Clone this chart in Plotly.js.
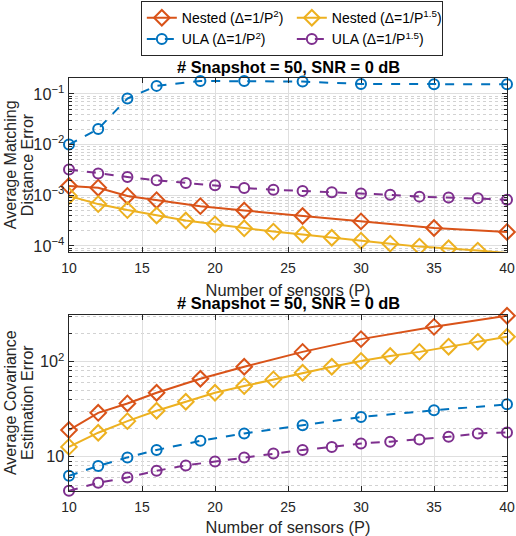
<!DOCTYPE html>
<html>
<head>
<meta charset="utf-8">
<script src="https://cdn.plot.ly/plotly-3.0.1.min.js"></script>
<style>html,body{margin:0;padding:0;background:#fff}#chart{width:516px;height:536px}</style>
</head>
<body>
<div id="chart"></div>
<script>
// Sensor counts
const xSparse = [10, 12, 14, 16, 19, 22, 26, 30, 35, 40];
const xDense = [10, 12, 14, 16, 18, 20, 22, 24, 26, 28, 30, 32, 34, 36, 38, 40];

// Top panel: Average Matching Distance Error
const nestedP2_mde = [0.00152, 0.00141, 0.00097, 0.00080, 0.00061, 0.00050, 0.00039, 0.000305, 0.000226, 0.000189];
const nestedP15_mde = [0.00097, 0.00067, 0.00051, 0.00040, 0.000318, 0.000267, 0.000223, 0.000192, 0.000168, 0.000145, 0.000127, 0.000111, 0.000097, 0.000090, 0.000081, 0.000073];
const ulaP2_mde = [0.0100, 0.0203, 0.081, 0.144, 0.180, 0.180, 0.175, 0.157, 0.155, 0.155];
const ulaP15_mde = [0.00324, 0.00270, 0.00230, 0.00197, 0.00175, 0.00157, 0.00139, 0.00129, 0.00122, 0.00115, 0.00108, 0.00102, 0.00094, 0.00090, 0.00087, 0.00082];

// Bottom panel: Average Covariance Estimation Error
const nestedP2_cov = [19.1, 29.0, 36.4, 47.2, 66.2, 88.5, 127, 173, 233, 305];
const nestedP15_cov = [12.7, 17.9, 23.7, 30.5, 37.9, 47.2, 55.5, 65.2, 76.6, 88.5, 102, 115, 127, 144, 162, 183];
const ulaP2_cov = [6.3, 8.0, 9.84, 11.8, 14.7, 17.6, 21.5, 26.2, 30.8, 35.6];
const ulaP15_cov = [4.38, 5.32, 6.05, 7.12, 8.11, 8.93, 9.84, 10.8, 11.8, 12.7, 13.8, 14.4, 15.2, 16.2, 17.6, 18.0];

const names = ['Nested (Δ=1/P<sup>2</sup>)', 'Nested (Δ=1/P<sup>1.5</sup>)', 'ULA (Δ=1/P<sup>2</sup>)', 'ULA (Δ=1/P<sup>1.5</sup>)'];
const xTicks = [10, 15, 20, 25, 30, 35, 40];
const titleText = '<b># Snapshot = 50, SNR = 0 dB</b>';
const xTitle = 'Number of sensors (P)';
const yTitleTopLines = ['Average Matching', 'Distance Error'];
const yTitleBottomLines = ['Average Covariance', 'Estimation Error'];

const C_RED = '#D95319', C_YEL = '#EDB120', C_BLU = '#0072BD', C_PUR = '#7E2F8E';
const FONT = 'Liberation Sans, Arial, Helvetica, sans-serif';

function tr(x, y, name, color, dash, symbol, xa, ya, showlegend, clip) {
  return {
    x: x, y: y, name: name, type: 'scatter', mode: 'lines+markers',
    xaxis: xa, yaxis: ya, showlegend: showlegend, cliponaxis: clip,
    line: {color: color, width: 2, dash: dash},
    marker: {symbol: symbol, size: symbol === 'diamond-open' ? 12 : 10, color: color, line: {width: 2, color: color}}
  };
}

const data = [
  tr(xSparse, nestedP2_mde, names[0], C_RED, 'solid', 'diamond-open', 'x', 'y', true, false),
  tr(xDense, nestedP15_mde, names[1], C_YEL, 'solid', 'diamond-open', 'x', 'y', true, true),
  tr(xSparse, ulaP2_mde, names[2], C_BLU, 'dash', 'circle-open', 'x', 'y', true, false),
  tr(xDense, ulaP15_mde, names[3], C_PUR, 'dash', 'circle-open', 'x', 'y', true, false),
  tr(xSparse, nestedP2_cov, names[0], C_RED, 'solid', 'diamond-open', 'x2', 'y2', false, false),
  tr(xDense, nestedP15_cov, names[1], C_YEL, 'solid', 'diamond-open', 'x2', 'y2', false, false),
  tr(xSparse, ulaP2_cov, names[2], C_BLU, 'dash', 'circle-open', 'x2', 'y2', false, false),
  tr(xDense, ulaP15_cov, names[3], C_PUR, 'dash', 'circle-open', 'x2', 'y2', false, false)
];

const axColor = '#262626';
function xAxis(anchor) {
  return {
    anchor: anchor, domain: [0, 1], range: [10, 40], tickvals: xTicks,
    ticks: 'inside', ticklen: 5, tickcolor: axColor, showline: true, linecolor: axColor, linewidth: 1,
    mirror: 'ticks', showgrid: true, gridcolor: '#dfdfdf', zeroline: false,
    ticklabelstandoff: 3,
    tickfont: {size: 14, color: axColor, family: FONT},
    title: {text: xTitle, font: {size: 16.4, color: axColor, family: FONT}, standoff: 9}
  };
}
function yAxis(anchor, domain, range) {
  return {
    anchor: anchor, domain: domain, type: 'log', range: range, dtick: 1, exponentformat: 'power',
    ticks: 'inside', ticklen: 5, tickcolor: axColor, showline: true, linecolor: axColor, linewidth: 1,
    mirror: 'ticks', showgrid: true, gridcolor: '#dfdfdf', zeroline: false,
    ticklabelstandoff: 1,
    minor: {dtick: 'D1', showgrid: true, gridcolor: '#d2d2d2', griddash: 'dot', ticks: 'inside', ticklen: 3, tickcolor: axColor},
    tickfont: {size: 13, color: axColor, family: FONT}
  };
}

function yTitleAnn(text, yref, shift) {
  return {text: text, xref: 'paper', yref: yref, x: 0, y: 0.5, xanchor: 'center', yanchor: 'middle',
    xshift: shift, textangle: -90, showarrow: false, borderpad: 0, font: {size: 16, color: axColor, family: FONT}};
}

const layout = {
  width: 516, height: 536,
  margin: {l: 69, r: 9, t: 78, b: 45, autoexpand: false},
  paper_bgcolor: '#ffffff', plot_bgcolor: '#ffffff',
  font: {family: FONT, color: axColor},
  showlegend: true,
  xaxis: xAxis('y'),
  yaxis: yAxis('x', [0.578, 1], [Math.log10(7.5e-5), Math.log10(0.206)]),
  xaxis2: xAxis('y2'),
  yaxis2: yAxis('x2', [0, 0.426], [Math.log10(4.36), Math.log10(310)]),
  legend: {
    orientation: 'h', x: 0.164, xanchor: 'left', y: 1.186, yanchor: 'top',
    entrywidth: 105, entrywidthmode: 'pixels', traceorder: 'normal',
    bordercolor: axColor, borderwidth: 1, bgcolor: '#ffffff',
    font: {size: 14, color: '#000', family: FONT}
  },
  annotations: [
    {text: titleText, xref: 'x domain', yref: 'y domain', x: 0.5, y: 1, xanchor: 'center', yanchor: 'bottom', yshift: 0, showarrow: false, font: {size: 16.4, color: '#000', family: FONT}},
    {text: titleText, xref: 'x2 domain', yref: 'y2 domain', x: 0.5, y: 1, xanchor: 'center', yanchor: 'bottom', yshift: 1, showarrow: false, font: {size: 16.4, color: '#000', family: FONT}},
    yTitleAnn(yTitleTopLines[0], 'y domain', -59),
    yTitleAnn(yTitleTopLines[1], 'y domain', -42),
    yTitleAnn(yTitleBottomLines[0], 'y2 domain', -59),
    yTitleAnn(yTitleBottomLines[1], 'y2 domain', -42)
  ]
};

Plotly.newPlot('chart', data, layout, {displayModeBar: false, staticPlot: true});
</script>
</body>
</html>
